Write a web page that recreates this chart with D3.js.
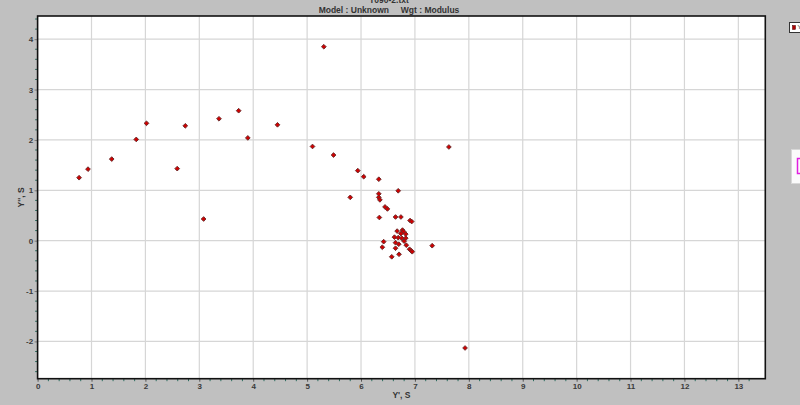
<!DOCTYPE html>
<html>
<head>
<meta charset="utf-8">
<script src="https://cdn.jsdelivr.net/npm/d3@7"></script>
<style>
  body { margin: 0; background: #c0c0c0; }
  svg { display: block; }
  .tick text { font-family: "Liberation Sans", Arial, sans-serif; }
</style>
</head>
<body>
<div id="chart"></div>
<script>
// data (Y' and Y'' values)
var xVals = [0.77, 0.935, 1.375, 1.83, 2.02, 2.59, 2.74, 3.08, 3.365, 3.73, 3.90, 4.45,
    5.31, 5.10, 5.49, 5.94, 5.80, 6.05, 6.33, 6.69, 6.33, 6.33, 6.35, 7.63, 7.93, 7.32,
    6.445, 6.49, 6.34, 6.64, 6.74, 6.91, 6.94, 6.67, 6.77, 6.79, 6.74, 6.83, 6.62, 6.69,
    6.755, 6.83, 6.64, 6.70, 6.80, 6.84, 6.42, 6.395, 6.64, 6.90, 6.93, 6.95, 6.705, 6.57];
var yVals = [1.25, 1.42, 1.62, 2.01, 2.33, 1.43, 2.28, 0.43, 2.42, 2.58, 2.04, 2.30,
    3.85, 1.87, 1.70, 1.39, 0.86, 1.27, 1.22, 0.99, 0.93, 0.86, 0.81, 1.86, -2.13, -0.10,
    0.67, 0.63, 0.46, 0.47, 0.47, 0.40, 0.38, 0.19, 0.21, 0.18, 0.14, 0.13, 0.07, 0.06,
    0.05, 0.05, -0.04, -0.07, -0.01, -0.09, -0.02, -0.13, -0.15, -0.17, -0.20, -0.22, -0.27, -0.32];
var xTicks = d3.range(0, 14, 1);
var yTicks = [-2, -1, 0, 1, 2, 3, 4];
var xDomain = [0, 13.5];
var yDomain = [-2.74, 4.46];
var titleLines = ["T090-2.txt", "Model : Unknown     Wgt : Modulus"];
var xTitle = "Y', S";
var yTitle = "Y'', S";
var legendLabel = "Y''";

var W = 800, H = 405;
var margin = {left: 37.6, top: 16, right: 34.7, bottom: 26.3};
var pw = W - margin.left - margin.right;
var ph = H - margin.top - margin.bottom;

var svg = d3.select("#chart").append("svg")
    .attr("width", W)
    .attr("height", H);

svg.append("rect")
    .attr("width", W).attr("height", H)
    .attr("fill", "#c0c0c0");

var g = svg.append("g")
    .attr("transform", "translate(" + margin.left + "," + margin.top + ")");

var xScale = d3.scaleLinear().domain(xDomain).range([0, pw]);
var yScale = d3.scaleLinear().domain(yDomain).range([ph, 0]);

g.append("rect")
    .attr("width", pw).attr("height", ph)
    .attr("fill", "#ffffff");

// grid
g.append("g").selectAll("line")
    .data(xTicks.filter(function(d) { return d > 0; }))
    .enter().append("line")
    .attr("x1", function(d) { return xScale(d); })
    .attr("x2", function(d) { return xScale(d); })
    .attr("y1", 0).attr("y2", ph)
    .attr("stroke", "#d6d6d6").attr("stroke-width", 1.2);

g.append("g").selectAll("line")
    .data(yTicks)
    .enter().append("line")
    .attr("y1", function(d) { return yScale(d); })
    .attr("y2", function(d) { return yScale(d); })
    .attr("x1", 0).attr("x2", pw)
    .attr("stroke", "#d6d6d6").attr("stroke-width", 1.2);

// minor ticks
var xMinor = d3.range(0, 67).map(function(i) { return i * 0.2; })
    .filter(function(d) { return Math.abs(d - Math.round(d)) > 0.01; });
var yMinor = d3.range(-13, 23).map(function(i) { return i * 0.2; })
    .filter(function(d) { return Math.abs(d - Math.round(d)) > 0.01 && d > yDomain[0] && d < yDomain[1]; });

g.append("g").selectAll("line")
    .data(xMinor)
    .enter().append("line")
    .attr("x1", function(d) { return xScale(d); })
    .attr("x2", function(d) { return xScale(d); })
    .attr("y1", ph).attr("y2", ph + 2.5)
    .attr("stroke", "#2e6e60").attr("stroke-width", 1);

g.append("g").selectAll("line")
    .data(yMinor)
    .enter().append("line")
    .attr("y1", function(d) { return yScale(d); })
    .attr("y2", function(d) { return yScale(d); })
    .attr("x1", -2.5).attr("x2", 0)
    .attr("stroke", "#2e6e60").attr("stroke-width", 1);

// axes
var xAxis = d3.axisBottom(xScale)
    .tickValues(xTicks)
    .tickSize(3)
    .tickPadding(2)
    .tickFormat(d3.format("d"));

var yAxis = d3.axisLeft(yScale)
    .tickValues(yTicks)
    .tickSize(3)
    .tickPadding(1.5)
    .tickFormat(function(d) { return d < 0 ? "-" + Math.abs(d) : d; });

var gx = g.append("g")
    .attr("transform", "translate(0," + ph + ")")
    .call(xAxis);
gx.select(".domain").remove();
gx.selectAll("line").attr("stroke", "#555");
gx.selectAll("text")
    .attr("font-size", 8)
    .attr("font-weight", "bold")
    .attr("fill", "#3a3a3a");

var gy = g.append("g").call(yAxis);
gy.select(".domain").remove();
gy.selectAll("line").attr("stroke", "#777");
gy.selectAll("text")
    .attr("font-size", 8)
    .attr("font-weight", "bold")
    .attr("fill", "#3a3a3a");

// plot frame
g.append("rect")
    .attr("width", pw).attr("height", ph)
    .attr("fill", "none")
    .attr("stroke", "#111").attr("stroke-width", 1.6);

// points
var pts = xVals.map(function(d, i) { return {x: d, y: yVals[i]}; });

g.append("g").selectAll("path")
    .data(pts)
    .enter().append("path")
    .attr("d", d3.symbol().type(d3.symbolSquare).size(11))
    .attr("transform", function(d) {
        return "translate(" + xScale(d.x) + "," + yScale(d.y) + ")rotate(45)";
    })
    .attr("fill", "#d00000")
    .attr("stroke", "#6a2a2a")
    .attr("stroke-width", 0.9);

// titles
svg.selectAll(".title")
    .data(titleLines)
    .enter().append("text")
    .attr("class", "title")
    .attr("x", 389)
    .attr("y", function(d, i) { return 3 + i * 9.5; })
    .attr("text-anchor", "middle")
    .attr("font-family", "Liberation Sans, Arial, sans-serif")
    .attr("font-size", 8.5)
    .attr("font-weight", "bold")
    .attr("fill", "#333")
    .style("white-space", "pre")
    .text(function(d) { return d; });

svg.append("text")
    .attr("x", margin.left + pw / 2)
    .attr("y", 398)
    .attr("text-anchor", "middle")
    .attr("font-family", "Liberation Sans, Arial, sans-serif")
    .attr("font-size", 8.5)
    .attr("font-weight", "bold")
    .attr("fill", "#333")
    .text(xTitle);

svg.append("text")
    .attr("transform", "translate(24," + (margin.top + ph / 2) + ")rotate(-90)")
    .attr("text-anchor", "middle")
    .attr("font-family", "Liberation Sans, Arial, sans-serif")
    .attr("font-size", 8.5)
    .attr("font-weight", "bold")
    .attr("fill", "#333")
    .text(yTitle);

// legend boxes, clipped by the window edge
var lg = svg.append("g").attr("transform", "translate(789.5,22.5)");
lg.append("rect")
    .attr("width", 20).attr("height", 10)
    .attr("fill", "#fff").attr("stroke", "#333").attr("stroke-width", 1);
lg.append("rect")
    .attr("x", 3).attr("y", 3).attr("width", 3).attr("height", 4)
    .attr("fill", "#b00000").attr("stroke", "#400").attr("stroke-width", 0.5);
lg.append("text")
    .attr("x", 8).attr("y", 6)
    .attr("font-family", "Liberation Sans, Arial, sans-serif")
    .attr("font-size", 6)
    .attr("fill", "#333")
    .text(legendLabel);

var lg2 = svg.append("g").attr("transform", "translate(791.5,149.5)");
lg2.append("rect")
    .attr("width", 20).attr("height", 34)
    .attr("fill", "#fbfbfb").attr("stroke", "#d8d8d8").attr("stroke-width", 1);
lg2.append("rect")
    .attr("x", 6).attr("y", 9).attr("width", 12).attr("height", 15)
    .attr("fill", "none").attr("stroke", "#e020e0").attr("stroke-width", 1.5);
</script>
</body>
</html>
